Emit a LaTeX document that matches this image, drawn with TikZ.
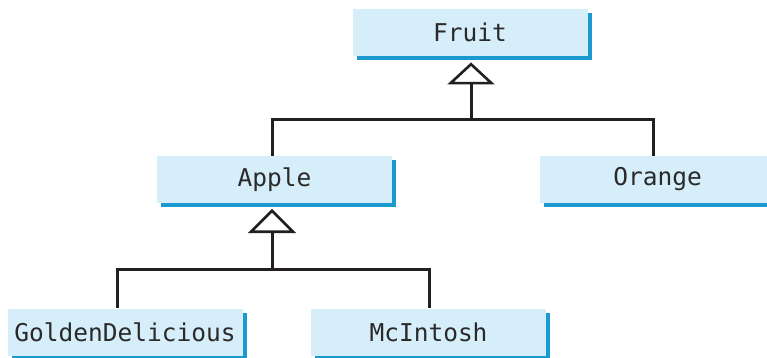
\documentclass[tikz,border=0pt]{standalone}
\usepackage{fontspec}
\setmonofont{DejaVu Sans Mono}
\usetikzlibrary{calc,shadows}
\definecolor{boxfill}{HTML}{D5EEF9}
\definecolor{boxshadow}{HTML}{1B9AD0}
\definecolor{linecol}{HTML}{231F20}
\definecolor{textcol}{HTML}{2A2A2A}
\tikzset{
  cls/.style={fill=boxfill, minimum width=235pt, minimum height=47pt, inner sep=0pt,
    font=\ttfamily\fontsize{24.5}{28}\selectfont, text=textcol,
    drop shadow={shadow xshift=4pt, shadow yshift=-4pt, fill=boxshadow, opacity=1}},
  conn/.style={line width=3pt, draw=linecol},
  tri/.style={line width=2.6pt, draw=linecol, fill=white, line join=miter}
}
\begin{document}
\begin{tikzpicture}[x=1pt, y=-1pt]
\clip (0,0) rectangle (767,358);
\fill[white] (0,0) rectangle (767,358);
\node[cls] (fruit) at (470,32.5) {Fruit};
\node[cls] (apple) at (274.5,179.5) {Apple};
\node[cls] (orange) at (657.5,179.5) {Orange};
\node[cls] (golden) at (125,332) {GoldenDelicious};
\node[cls] (mcintosh) at (428.5,332) {McIntosh};
\coordinate (b1) at (471,120);
\coordinate (b2) at (272,269);
\coordinate (t1) at ($(fruit.south -| b1)+(0,8)$);
\coordinate (t2) at ($(apple.south -| b2)+(0,7.5)$);
% Fruit hierarchy
\draw[conn] ([xshift=-2.5pt]apple.north) |- (b1) -| ([xshift=-4.5pt]orange.north);
\draw[conn] (b1) -- ($(t1)+(0,19)$);
\draw[tri] (t1) -- ++(-20.5,19) -- ++(41,0) -- cycle;
% Apple hierarchy
\draw[conn] ([xshift=-8pt]golden.north) |- (b2) -| ([xshift=0.5pt]mcintosh.north);
\draw[conn] (b2) -- ($(t2)+(0,21)$);
\draw[tri] (t2) -- ++(-21,21) -- ++(42,0) -- cycle;
\end{tikzpicture}
\end{document}
